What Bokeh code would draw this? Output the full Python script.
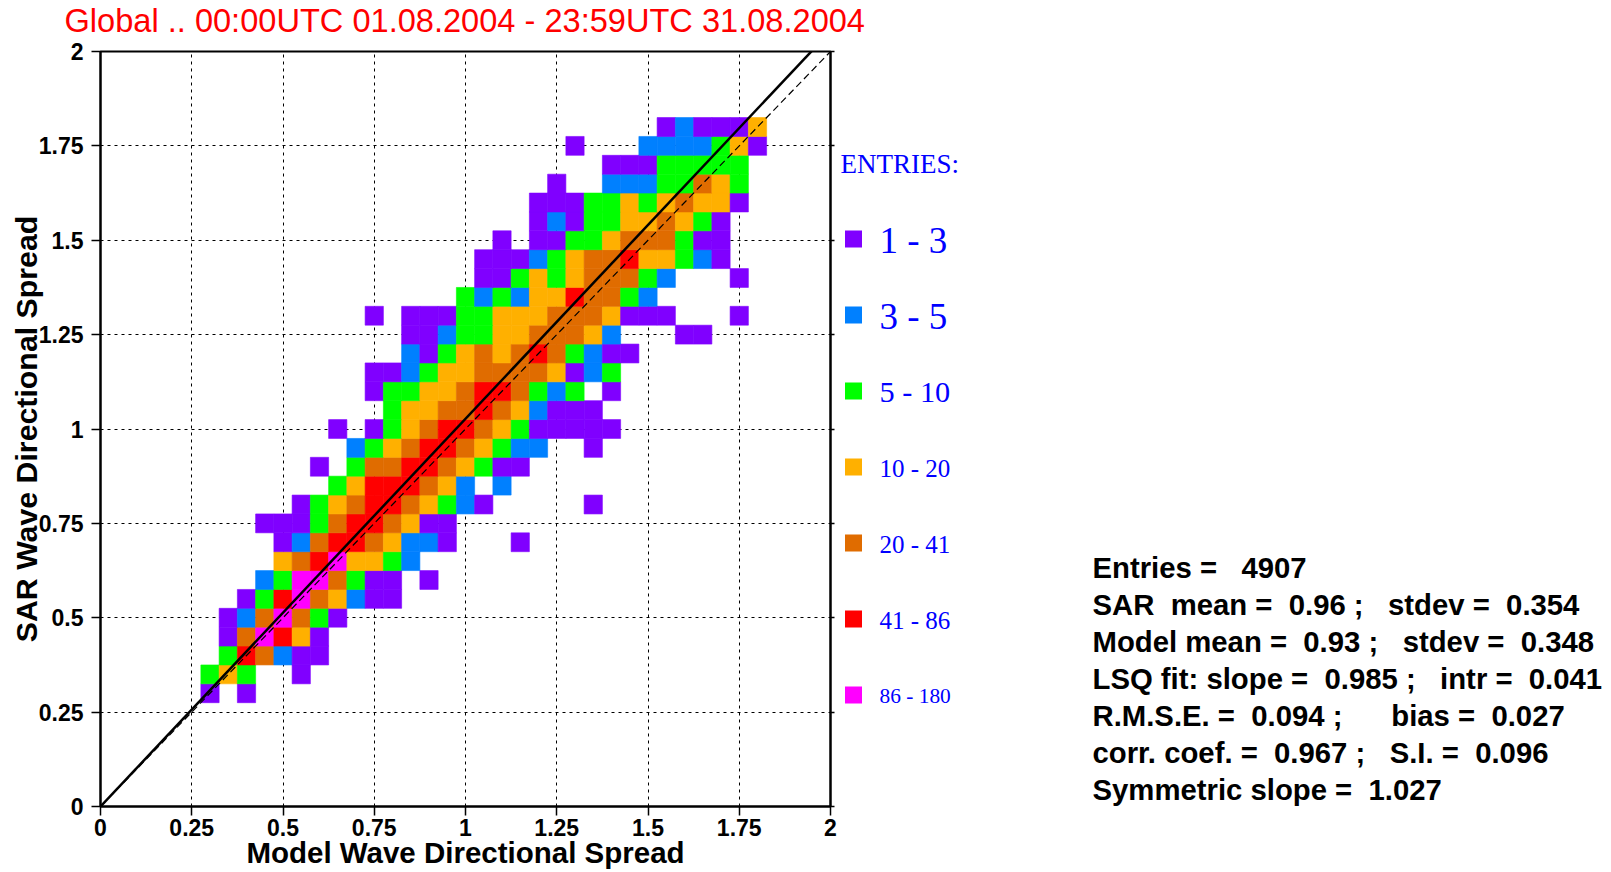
from bokeh.plotting import figure
from bokeh.layouts import column, row
from bokeh.models import Range1d, FixedTicker, LinearAxis, ColumnDataSource
from bokeh.core.properties import value
from bokeh.embed import file_html
from bokeh.resources import INLINE

# ---------------------------------------------------------------- data
BIN = 0.05  # histogram bin width (both axes)

class_codes = ["P", "B", "G", "O", "D", "R", "M"]
class_labels = ["1 - 3", "3 - 5", "5 - 10", "10 - 20", "20 - 41", "41 - 86", "86 - 180"]
class_colors = ["#8000ff", "#0080ff", "#00ff00", "#ffb000", "#e06c00", "#ff0000", "#ff00ff"]

# one entry per histogram row: (SAR bin centre, model bin centre of first cell,
# entry class of each consecutive cell; "." = empty bin)
hist_rows = [
    (0.30, 0.30, "P.P"),
    (0.35, 0.30, "GOG..P"),
    (0.40, 0.35, "GRDBPP"),
    (0.45, 0.35, "PDMROP"),
    (0.50, 0.35, "PBDMDGP"),
    (0.55, 0.40, "PGRMDOBPP"),
    (0.60, 0.45, "BGMMDGPP.P"),
    (0.65, 0.50, "ODRMOOGB"),
    (0.70, 0.50, "PBDRRDOBBP...P"),
    (0.75, 0.45, "PPPGDRRDOPP"),
    (0.80, 0.55, "PGODRRDOGBP.....P"),
    (0.85, 0.65, "GORRRDOB.B"),
    (0.90, 0.60, "P.GDDRRDOGPP"),
    (0.95, 0.70, "BGODRRDOGBB..P"),
    (1.00, 0.65, "P.PGODRRDOGPPPPP"),
    (1.05, 0.80, "GOODDRDOBPPP"),
    (1.10, 0.75, "PGGOODRRDGBG.P"),
    (1.15, 0.75, "PPBGOODDDDOPBG"),
    (1.20, 0.85, "BPGODODRDGBPP"),
    (1.25, 0.85, "PPBGGOODDDOB...PP"),
    (1.30, 0.75, "P.PPPGGOOODDDOPPP...P"),
    (1.35, 1.00, "GBGBOORDDGB"),
    (1.40, 1.05, "PPGOGODDDGB...P"),
    (1.45, 1.05, "PPPBGODDROOGBP"),
    (1.50, 1.10, "P.PPGGODDDGPP"),
    (1.55, 1.20, "PBPGGOODOGP"),
    (1.60, 1.20, "PPPGGOGODOOP"),
    (1.65, 1.25, "P..BBBGGDOG"),
    (1.70, 1.40, "PPPGGGGG"),
    (1.75, 1.30, "P...BBBBGOP"),
    (1.80, 1.55, "PBPPPO"),
]

sym_slope = 1.027

tick_values = [0.0, 0.25, 0.5, 0.75, 1.0, 1.25, 1.5, 1.75, 2.0]
tick_labels = ["0", "0.25", "0.5", "0.75", "1", "1.25", "1.5", "1.75", "2"]

title_text = "Global .. 00:00UTC 01.08.2004 - 23:59UTC 31.08.2004"
stats_lines = [
    "Entries =   4907",
    "SAR  mean =  0.96 ;   stdev =  0.354",
    "Model mean =  0.93 ;   stdev =  0.348",
    "LSQ fit: slope =  0.985 ;   intr =  0.041",
    "R.M.S.E. =  0.094 ;      bias =  0.027",
    "corr. coef. =  0.967 ;   S.I. =  0.096",
    "Symmetric slope =  1.027",
]

# ---------------------------------------------------------------- cells
color_of = dict(zip(class_codes, class_colors))
xs, ys, cols = [], [], []
for yc, x0, codes in hist_rows:
    for k, c in enumerate(codes):
        if c == ".":
            continue
        xs.append(round(x0 + k * BIN, 3))
        ys.append(yc)
        cols.append(color_of[c])
cells = ColumnDataSource(dict(x=xs, y=ys, color=cols))

SANS = "Liberation Sans"
SERIF = "Liberation Serif"
PAGE_W, PAGE_H = 1611, 872
TOP = 38                      # height of the title strip
W1, H1 = 840, PAGE_H - TOP    # main panel size
MB_TOP, MB_BOTTOM = 13, 66
FRAME_TOP = TOP + MB_TOP      # page y of the plotting frame edges
FRAME_BOTTOM = PAGE_H - MB_BOTTOM


def keep_spaces(s):
    # SVG text collapses runs of blanks; use no-break spaces instead
    return s.replace(" ", "\u00a0")


def text_y(baseline, size):
    # anchor that puts the glyph baseline at the wanted page row
    return baseline - 0.35 * size


def bare(fig):
    fig.axis.visible = False
    fig.grid.visible = False
    fig.outline_line_color = None


# ---------------------------------------------------------------- title strip
TITLE_FS = 32.6
t = figure(width=PAGE_W, height=TOP, x_range=Range1d(0, PAGE_W), y_range=Range1d(TOP, 0),
           title=None, output_backend="svg", toolbar_location=None,
           min_border=0, min_border_left=0, min_border_right=0,
           min_border_top=0, min_border_bottom=0)
bare(t)
t.text(x=[64], y=[text_y(31, TITLE_FS)], text=[title_text], text_color="#ff0000",
       text_font=value(SANS), text_font_size=f"{TITLE_FS}px", text_baseline="alphabetic")

# ---------------------------------------------------------------- main panel
p = figure(width=W1, height=H1, x_range=Range1d(0, 2), y_range=Range1d(0, 2),
           title=None, output_backend="svg", toolbar_location=None,
           min_border_left=100, min_border_right=10, min_border_top=MB_TOP,
           min_border_bottom=MB_BOTTOM)
p.outline_line_color = "black"
p.outline_line_width = 2

for g in (p.xgrid[0], p.ygrid[0]):
    g.ticker = FixedTicker(ticks=tick_values[1:-1])
    g.grid_line_color = "black"
    g.grid_line_dash = "3 4"
    g.grid_line_width = 1

overrides = dict(zip(tick_values, tick_labels))
for ax in (p.xaxis[0], p.yaxis[0]):
    ax.ticker = FixedTicker(ticks=tick_values)
    ax.major_label_overrides = overrides
    ax.major_label_text_font = SANS
    ax.major_label_text_font_style = "bold"
    ax.major_label_text_font_size = "23px"
    ax.major_label_text_color = "black"
    ax.axis_label_text_font = SANS
    ax.axis_label_text_font_style = "bold"
    ax.axis_label_text_color = "black"
    ax.axis_line_color = "black"
    ax.axis_line_width = 2
    ax.major_tick_line_color = "black"
    ax.major_tick_line_width = 1.5
    ax.major_tick_in = 0
    ax.major_tick_out = 9
    ax.minor_tick_line_color = None
p.xaxis.axis_label = "Model Wave Directional Spread"
p.yaxis.axis_label = "SAR Wave Directional Spread"
p.xaxis.axis_label_text_font_size = "29.5px"
p.yaxis.axis_label_text_font_size = "30.3px"
p.xaxis.major_label_standoff = 3
p.xaxis.axis_label_standoff = -3
p.yaxis.major_label_standoff = 8
p.yaxis.axis_label_standoff = -7

# unlabelled tick marks on the right-hand side of the frame
rax = LinearAxis(ticker=FixedTicker(ticks=tick_values), major_label_text_color=None,
                 major_label_standoff=0, axis_line_color="black", axis_line_width=2,
                 major_tick_line_color="black", major_tick_line_width=1.5,
                 major_tick_in=0, major_tick_out=4, minor_tick_line_color=None)
p.add_layout(rax, "right")

p.rect(x="x", y="y", width=BIN, height=BIN, source=cells,
       fill_color="color", line_color="color", line_width=0.6)

# 1:1 reference line and symmetric-slope fit through the origin
p.line(x=[0, 2], y=[0, 2], line_color="black", line_width=1.2, line_dash="7 4")
p.line(x=[0, 2], y=[0, 2 * sym_slope], line_color="black", line_width=2.5)

# ---------------------------------------------------------------- side panel
# its frame lines up with the main frame, so page coordinates are used here
q = figure(width=PAGE_W - W1, height=H1, x_range=Range1d(W1, PAGE_W),
           y_range=Range1d(FRAME_BOTTOM, FRAME_TOP),
           title=None, output_backend="svg", toolbar_location=None,
           min_border=0, min_border_left=0, min_border_right=0,
           min_border_top=MB_TOP, min_border_bottom=MB_BOTTOM)
bare(q)

ENTRIES_FS = 27
q.text(x=[840], y=[text_y(173.3, ENTRIES_FS)], text=["ENTRIES:"], text_color="#0000ff",
       text_font=value(SERIF), text_font_size=f"{ENTRIES_FS}px", text_baseline="alphabetic")

label_sizes = [37, 37, 30.3, 25, 25, 25, 21.4]
key_y = [238.4 + 76.0 * k for k in range(len(class_labels))]
q.rect(x=[853] * len(key_y), y=key_y, width=17, height=17,
       fill_color=class_colors, line_color=None)
for yk, lab, fs in zip(key_y, class_labels, label_sizes):
    q.text(x=[879], y=[text_y(yk + 2 + 0.33 * fs, fs)], text=[lab], text_color="#0000ff",
           text_font=value(SERIF), text_font_size=f"{fs}px", text_baseline="alphabetic")

STATS_FS = 29.3
stat_y = [text_y(577.6 + 37 * k, STATS_FS) for k in range(len(stats_lines))]
q.text(x=[1092] * len(stats_lines), y=stat_y, text=[keep_spaces(s) for s in stats_lines],
       text_color="black", text_font=value(SANS), text_font_style="bold",
       text_font_size=f"{STATS_FS}px", text_baseline="alphabetic")

layout = column(t, row(p, q))
open("out.html", "w").write(file_html(layout, INLINE))
